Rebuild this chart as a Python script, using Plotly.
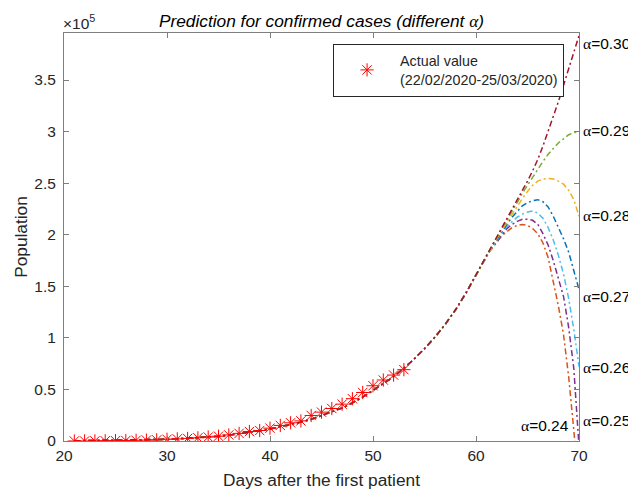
import plotly.graph_objects as go

# ---------------- data ----------------
SCALE = 1e5  # axis shows values in units of 10^5

actual_days = list(range(21, 54))
actual_cases = [20, 62, 155, 229, 322, 453, 655, 888, 1128, 1694,
                2036, 2502, 3089, 3858, 4636, 5883, 7375, 9172, 10149, 12462,
                15113, 17660, 19500, 24747, 27980, 31506, 35713, 41035, 47021, 53578,
                59138, 63927, 69176]

# shared part of the fitted curves (x10^5), days 21..61
trunk_days = list(range(21, 62))
trunk_e5 = [0.002, 0.003, 0.004, 0.005, 0.006, 0.008, 0.010, 0.012, 0.014, 0.017,
            0.021, 0.026, 0.032, 0.039, 0.047, 0.057, 0.069, 0.083, 0.099, 0.117,
            0.137, 0.159, 0.183, 0.210, 0.245, 0.280, 0.320, 0.370, 0.425, 0.490,
            0.555, 0.625, 0.705, 0.795, 0.895, 1.005, 1.130, 1.270, 1.430, 1.610,
            1.790]

# diverging tails (x10^5)
tail_days = [61.5, 62, 62.5, 63, 63.5, 64, 64.5, 65, 65.5, 66,
             66.5, 67, 67.5, 68, 68.5, 69, 69.5, 70]
alphas = ["0.24", "0.25", "0.26", "0.27", "0.28", "0.29", "0.30"]
tail_024 = [1.86, 1.92, 1.99, 2.03, 2.07, 2.09, 2.10, 2.09, 2.06, 2.01,
            1.92, 1.78, 1.56, 1.31, 1.03, 0.62, 0.10, -0.45]
tail_025 = [1.87, 1.93, 2.00, 2.06, 2.10, 2.13, 2.15, 2.15, 2.14, 2.10,
            2.01, 1.90, 1.75, 1.58, 1.40, 1.10, 0.70, -0.05]
tail_026 = [1.87, 1.94, 2.02, 2.08, 2.13, 2.17, 2.20, 2.22, 2.23, 2.21,
            2.16, 2.07, 1.95, 1.80, 1.62, 1.38, 1.08, 0.72]
tail_027 = [1.88, 1.95, 2.03, 2.10, 2.17, 2.23, 2.28, 2.31, 2.33, 2.34,
            2.32, 2.27, 2.18, 2.07, 1.96, 1.83, 1.66, 1.47]
tail_028 = [1.88, 1.96, 2.04, 2.12, 2.20, 2.27, 2.35, 2.42, 2.48, 2.52,
            2.54, 2.545, 2.54, 2.52, 2.49, 2.43, 2.34, 2.18]
tail_029 = [1.89, 1.97, 2.06, 2.14, 2.23, 2.31, 2.40, 2.48, 2.56, 2.64,
            2.71, 2.78, 2.84, 2.89, 2.93, 2.97, 2.99, 3.00]
tail_030 = [1.89, 1.98, 2.07, 2.16, 2.25, 2.34, 2.43, 2.52, 2.62, 2.73,
            2.86, 3.00, 3.14, 3.29, 3.45, 3.61, 3.77, 3.93]
tails = [tail_024, tail_025, tail_026, tail_027, tail_028, tail_029, tail_030]

# label positions (x10^5) for the alpha annotations
label_y = [0.155, 0.20, 0.71, 1.40, 2.19, 3.01, 3.85]

y_ticks = [0, 0.5, 1, 1.5, 2, 2.5, 3, 3.5]
x_ticks = [20, 30, 40, 50, 60, 70]

# ---------------- styles ----------------
colors = ["#D95319", "#7E2F8E", "#4DBEEE", "#0072BD", "#EDB120", "#77AC30", "#A2142F"]
FONT = "Liberation Sans, Arial, sans-serif"
SERIF = "Liberation Serif, Times New Roman, serif"
TXT = "#262626"
AX = "#7f7f7f"

fig = go.Figure()

for a, tail, col in zip(alphas, tails, colors):
    fig.add_trace(go.Scatter(
        x=trunk_days + tail_days, y=trunk_e5 + tail,
        mode="lines", line=dict(color=col, width=1.5, dash="6px,3px,2px,3px"),
        showlegend=False, name="α=" + a, hoverinfo="skip"))

fig.add_trace(go.Scatter(
    x=actual_days, y=[v / SCALE for v in actual_cases],
    mode="markers",
    marker=dict(symbol="asterisk-open", size=11, color="red",
                line=dict(color="red", width=1)),
    name="Actual value<br>(22/02/2020-25/03/2020)", showlegend=True))

alpha_span = '<span style="font-family:' + SERIF + '">α</span>'
for a, ly in zip(alphas, label_y):
    if a == "0.24":
        fig.add_annotation(x=69.2, y=ly, xref="x", yref="y", text=alpha_span + "=" + a,
                           showarrow=False, xanchor="right", yanchor="middle",
                           font=dict(family=FONT, size=15.5, color="black"))
    else:
        fig.add_annotation(x=70, y=ly, xref="x", yref="y", text=alpha_span + "=" + a,
                           showarrow=False, xanchor="left", yanchor="middle", xshift=2,
                           font=dict(family=FONT, size=15.5, color="black"))

fig.add_annotation(x=0, y=1, xref="paper", yref="paper", xanchor="left", yanchor="bottom",
                   text="×10<sup>5</sup>", showarrow=False, xshift=-3, yshift=-1,
                   font=dict(family=FONT, size=15.5, color=TXT))

fig.update_layout(
    width=628, height=483,
    margin=dict(l=56, r=57, t=25, b=50, autoexpand=False),
    paper_bgcolor="white", plot_bgcolor="white",
    font=dict(family=FONT, size=15.5, color=TXT),
    title=dict(text='<i>Prediction for confirmed cases (different <span style="font-family:'
               + SERIF + '">α</span>)</i>',
               x=0.5, xanchor="center", xref="paper", y=0.973, yanchor="middle",
               font=dict(family=FONT, size=17.3, color="black")),
    legend=dict(x=0.971, y=0.9735, xanchor="right", yanchor="top",
                bordercolor="#262626", borderwidth=1, bgcolor="white",
                itemwidth=56, font=dict(family=FONT, size=14.3, color=TXT)),
    xaxis=dict(range=[20, 70], tickvals=x_ticks, ticks="inside", ticklen=5,
               tickcolor=AX, showline=True, linecolor=AX, linewidth=1, mirror="ticks",
               showgrid=False, zeroline=False, automargin=False,
               tickfont=dict(family=FONT, size=15.5, color=TXT),
               title=dict(text="Days after the first patient", standoff=11,
                          font=dict(family=FONT, size=17.3, color=TXT))),
    yaxis=dict(range=[0, 3.956], tickvals=y_ticks, ticks="inside", ticklen=5,
               tickcolor=AX, showline=True, linecolor=AX, linewidth=1, mirror="ticks",
               showgrid=False, zeroline=False, ticklabelstandoff=4, automargin=False,
               tickfont=dict(family=FONT, size=15.5, color=TXT),
               title=dict(text="Population", standoff=2,
                          font=dict(family=FONT, size=17.3, color=TXT))),
)

fig.write_html("out.html")
